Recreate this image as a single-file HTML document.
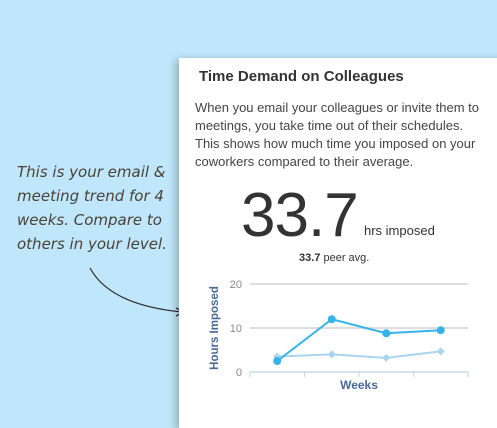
<!DOCTYPE html>
<html><head><meta charset="utf-8"><style>
body{margin:0;width:497px;height:411px;overflow:hidden;background:#bfe6fa;font-family:"Liberation Sans",sans-serif;position:relative}
.card{position:absolute;left:179px;top:58px;width:330px;height:370px;background:#fff;box-shadow:-3px 2px 8px rgba(0,0,0,.25)}
.t{position:absolute;left:20px;top:10px;font-size:15px;font-weight:bold;color:#333}
.d{position:absolute;left:16px;top:41px;white-space:nowrap;font-size:13px;line-height:18px;color:#444}
.big{position:absolute;left:62px;top:122px;font-size:62px;color:#333;letter-spacing:-1px}
.hrs{position:absolute;left:185px;top:165px;font-size:13px;color:#333}
.peer{position:absolute;left:120px;top:194px;font-size:11px;color:#333}
.note{position:absolute;left:17px;top:160px;font-family:"Comic Sans MS","DejaVu Sans",sans-serif;font-style:italic;font-size:15px;line-height:24px;color:#4a4238;white-space:nowrap}
</style></head><body>
<div class="note">This is your email &amp;<br>meeting trend for 4<br>weeks. Compare to<br>others in your level.</div>
<svg style="position:absolute;left:0;top:0" width="497" height="411"><path d="M90 268 Q110 305 182 312" fill="none" stroke="#333" stroke-width="1.3"/><path d="M176 308 L184 312 L176 316" fill="none" stroke="#333" stroke-width="1.3"/></svg>
<div class="card">
<div class="t">Time Demand on Colleagues</div>
<div class="d">When you email your colleagues or invite them to<br>meetings, you take time out of their schedules.<br>This shows how much time you imposed on your<br>coworkers compared to their average.</div>
<div class="big">33.7</div>
<div class="hrs">hrs imposed</div>
<div class="peer"><b>33.7</b> peer avg.</div>
</div>
<svg id="c" style="position:absolute;left:0;top:0" width="497" height="411"></svg>
<script>
const weeks=["W1","W2","W3","W4"];
const mine=[2.5,12,8.8,9.5];
const peer=[3.5,4,3.2,4.7];
const yTicks=[0,10,20];
const svg=document.getElementById('c');const NS='http://www.w3.org/2000/svg';
const x0=250,x1=468,yb=372,yt=284;
const y=v=>yb-(v/20)*(yb-yt);
const bw=(x1-x0)/weeks.length;const x=i=>x0+bw*(i+.5);
function el(t,a,p){const e=document.createElementNS(NS,t);for(const k in a)e.setAttribute(k,a[k]);(p||svg).appendChild(e);return e;}
yTicks.forEach(v=>{
 if(v>0){const g=el('line',{x1:x0,x2:x1,y1:y(v),y2:y(v),stroke:'#ddd','stroke-width':2});}
 const t=el('text',{x:242,y:y(v)+4,'text-anchor':'end','font-size':11,fill:'#888','font-family':'Liberation Sans'});t.textContent=v;
 
});
const ax=el('line',{x1:x0,x2:x1,y1:yb,y2:yb,stroke:'#c5d9ea','stroke-width':1.5});
for(let i=0;i<=weeks.length;i++){const tk=el('line',{x1:x0+bw*i,x2:x0+bw*i,y1:yb,y2:yb+5,stroke:'#c5d9ea','stroke-width':1.2});}
const xt=el('text',{x:(x0+x1)/2,y:389,'text-anchor':'middle','font-size':12,'font-weight':'bold',fill:'#4a6a96','font-family':'Liberation Sans'});xt.textContent='Weeks';
const yt2=el('text',{transform:'translate(218,328) rotate(-90)','text-anchor':'middle','font-size':11.5,'font-weight':'bold',fill:'#4a6a96','font-family':'Liberation Sans'});yt2.textContent='Hours Imposed';
const pl=el('polyline',{points:peer.map((v,i)=>x(i)+','+y(v)).join(' '),fill:'none',stroke:'#a8d4ee','stroke-width':2});
peer.forEach((v,i)=>{const d=el('path',{d:`M${x(i)} ${y(v)-4}L${x(i)+4} ${y(v)}L${x(i)} ${y(v)+4}L${x(i)-4} ${y(v)}Z`,fill:'#a8d4ee'});});
const ml=el('polyline',{points:mine.map((v,i)=>x(i)+','+y(v)).join(' '),fill:'none',stroke:'#35b3e8','stroke-width':2});
mine.forEach((v,i)=>{const c=el('circle',{cx:x(i),cy:y(v),r:4,fill:'#35b3e8'});});
</script>
</body></html>
